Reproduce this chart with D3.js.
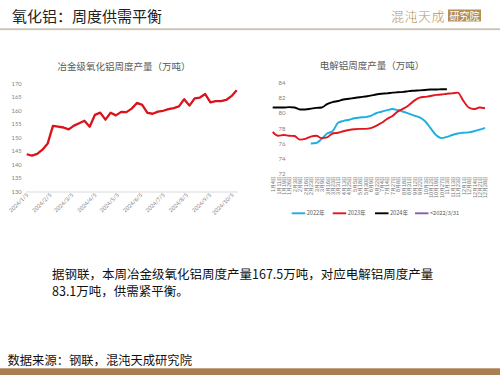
<!DOCTYPE html>
<html><head><meta charset="utf-8">
<script src="https://cdn.jsdelivr.net/npm/d3@7"></script>
<style>
body{margin:0;background:#fff}
svg{display:block;font-family:"Noto Sans CJK SC","Noto Sans",sans-serif}
</style>
</head><body><svg id="c" width="500" height="375"></svg>
<script>
// ---------- DATA ----------
const aluminaDates = ["2024-01-05","2024-01-12","2024-01-19","2024-01-26","2024-02-02","2024-02-09","2024-02-16","2024-02-23","2024-03-01","2024-03-08","2024-03-15","2024-03-22","2024-03-29","2024-04-05","2024-04-12","2024-04-19","2024-04-26","2024-05-03","2024-05-10","2024-05-17","2024-05-24","2024-05-31","2024-06-07","2024-06-14","2024-06-21","2024-06-28","2024-07-05","2024-07-12","2024-07-19","2024-07-26","2024-08-02","2024-08-09","2024-08-16","2024-08-23","2024-08-30","2024-09-06","2024-09-13","2024-09-20","2024-09-27","2024-10-04","2024-10-11"];
const aluminaValues = [143.8,143.3,143.9,145.5,147.8,154.3,154.0,153.7,153.0,154.4,155.3,156.2,154.0,158.4,159.2,156.6,159.2,158.2,159.5,159.4,160.7,162.8,162.1,159.1,158.8,159.6,159.9,160.5,160.9,161.5,164.2,161.8,164.5,164.8,166.1,163.0,163.5,163.5,163.9,165.3,167.5];
const aluminaTickLabels = ["2024/1/5","2024/2/5","2024/3/5","2024/4/5","2024/5/5","2024/6/5","2024/7/5","2024/8/5","2024/9/5","2024/10/5"];
const aluminaYTicks = [130,135,140,145,150,155,160,165,170];

const alCategories = ["1月4日","1月11日","1月19日","1月26日","2月3日","2月9日","2月16日","2月23日","3月2日","3月9日","3月16日","3月23日","3月31日","4月13日","4月25日","5月5日","5月18日","5月30日","6月9日","6月22日","7月4日","7月14日","7月27日","8月8日","8月18日","8月31日","9月12日","9月22日","10月3日","10月12日","10月19日","10月27日","11月3日","11月13日","11月23日","12月1日","12月8日","12月14日","12月21日","12月28日"];
const al2022 = [null,null,null,null,null,null,null,76.0,76.05,76.6,77.3,77.6,78.7,78.95,79.1,79.3,79.4,79.45,79.6,79.95,80.15,80.35,80.5,80.35,80.15,79.9,79.65,79.4,78.9,78.0,77.1,76.7,76.85,77.1,77.3,77.4,77.45,77.6,77.8,78.05];
const al2023 = [77.5,77.0,77.1,77.0,76.97,76.5,76.6,76.9,77.0,76.7,76.8,77.3,77.4,77.6,77.75,77.85,77.9,77.9,78.0,78.3,78.7,79.2,79.6,80.2,80.55,81.0,81.6,82.0,82.1,82.2,82.35,82.4,82.5,82.55,82.65,81.6,80.7,80.5,80.7,80.6];
const al2024 = [80.7,80.7,80.7,80.75,80.7,80.45,80.45,80.55,80.65,80.7,81.15,81.4,81.55,81.75,81.85,81.95,82.05,82.15,82.25,82.4,82.5,82.55,82.65,82.7,82.75,82.85,82.9,82.95,83.0,83.05,83.05,83.1,83.1,null,null,null,null,null,null,null];
const alYTicks = [72,74,76,78,80,82,84];
const legendLabels = ["2022年","2023年","2024年","<2022/3/31"];

// ---------- DRAW ----------
const svg = d3.select("#c");
const parse = d3.timeParse("%Y-%m-%d");
const parseTick = d3.timeParse("%Y/%m/%d");

// header
svg.append("text").attr("x",12).attr("y",21.5).attr("font-size",15).attr("fill","#222").text("氧化铝：周度供需平衡");
svg.append("rect").attr("x",0).attr("y",28.3).attr("width",500).attr("height",1.8).attr("fill","#cbc1b0");
svg.append("text").attr("x",391).attr("y",20.5).attr("font-size",13).attr("font-weight",300).attr("fill","#b89258").attr("letter-spacing",0.5).text("混沌天成");
svg.append("rect").attr("x",448).attr("y",9.5).attr("width",33).attr("height",12).attr("fill","#b58e55");
svg.append("text").attr("x",464.5).attr("y",19.5).attr("font-size",10).attr("text-anchor","middle").attr("fill","#fff").text("研究院");

// left chart
const L = svg.append("g");
L.append("text").attr("x",124).attr("y",70).attr("font-size",9.5).attr("fill","#595959").attr("text-anchor","middle").text("冶金级氧化铝周度产量（万吨）");
const xL = d3.scaleTime().domain(d3.extent(aluminaDates, parse)).range([26.7, 236.7]);
const yL = d3.scaleLinear().domain([130,170]).range([191.5, 83.5]);
const axB = L.append("g").attr("transform","translate(0,191.5)")
  .call(d3.axisBottom(xL).tickValues(aluminaTickLabels.map(parseTick)).tickSize(0).tickSizeOuter(0)
    .tickFormat((d,i)=>aluminaTickLabels[i]));
axB.select(".domain").attr("stroke","#d9d9d9").attr("d","M26,0.5H237.5");
axB.selectAll("text").attr("font-size",5.6).attr("fill","#7f7f7f").attr("font-family","Lato, sans-serif")
  .attr("text-anchor","end").attr("dy",0).attr("y",0).attr("transform","translate(1.5,4) rotate(-45)");
const axLft = L.append("g").attr("transform","translate(26.7,0)")
  .call(d3.axisLeft(yL).tickValues(aluminaYTicks).tickSize(0).tickPadding(5));
axLft.select(".domain").remove();
axLft.selectAll("text").attr("font-size",5.8).attr("fill","#7f7f7f").attr("font-family","Lato, sans-serif");
L.append("path").datum(aluminaValues)
  .attr("fill","none").attr("stroke","#d7141c").attr("stroke-width",2.3).attr("stroke-linejoin","round")
  .attr("d", d3.line().x((d,i)=>xL(parse(aluminaDates[i]))).y(d=>yL(d)));

// right chart
const R = svg.append("g");
R.append("text").attr("x",372).attr("y",69).attr("font-size",9.5).attr("fill","#595959").attr("text-anchor","middle").text("电解铝周度产量（万吨）");
const xR = d3.scalePoint().domain(alCategories).range([272.7, 485]);
const yR = d3.scaleLinear().domain([72,84]).range([174, 82.3]);
const axR = R.append("g").attr("transform","translate(287,0)")
  .call(d3.axisLeft(yR).tickValues(alYTicks).tickSize(0).tickPadding(1.5));
axR.select(".domain").remove();
axR.selectAll("text").attr("font-size",6).attr("fill","#7f7f7f").attr("font-family","Lato, sans-serif");
const axRB = R.append("g").attr("transform","translate(0,176)")
  .call(d3.axisBottom(xR).tickSize(0).tickPadding(0));
axRB.select(".domain").remove();
axRB.selectAll("text").attr("font-size",5.4).attr("fill","#6f6f6f")
  .attr("text-anchor","end").attr("y",0).attr("dy","0.35em").attr("transform","rotate(-90)");
const lineR = d3.line().defined(d=>d!=null).x((d,i)=>xR(alCategories[i])).y(d=>yR(d)).curve(d3.curveMonotoneX);
const seriesR = [
  {vals: al2022, color:"#1daee3"},
  {vals: al2023, color:"#e0151d"},
  {vals: al2024, color:"#000000"}
];
seriesR.forEach(s=>{
  R.append("path").datum(s.vals).attr("fill","none").attr("stroke",s.color).attr("stroke-width",1.9)
    .attr("stroke-linejoin","round").attr("d", lineR);
});
// legend
const legendColors = ["#1daee3","#e0151d","#000000","#7f63a8"];
const legendX = [291.7, 332.7, 375, 415];
legendLabels.forEach((lab,i)=>{
  R.append("line").attr("x1",legendX[i]).attr("x2",legendX[i]+13.5).attr("y1",213.3).attr("y2",213.3)
    .attr("stroke",legendColors[i]).attr("stroke-width",1.9);
  R.append("text").attr("x",legendX[i]+15).attr("y",215.3).attr("font-size",5.6).attr("fill","#595959").text(lab);
});

// text block
svg.append("text").attr("x",52).attr("y",278.5).attr("font-size",12.5).attr("fill","#111")
  .text("据钢联，本周冶金级氧化铝周度产量167.5万吨，对应电解铝周度产量");
svg.append("text").attr("x",52).attr("y",296).attr("font-size",12.5).attr("fill","#111")
  .text("83.1万吨，供需紧平衡。");
svg.append("text").attr("x",7.5).attr("y",364.5).attr("font-size",12.3).attr("fill","#111")
  .text("数据来源：钢联，混沌天成研究院");
svg.append("rect").attr("x",0).attr("y",368.3).attr("width",500).attr("height",7).attr("fill","#a97f4f");
</script>
</body></html>
